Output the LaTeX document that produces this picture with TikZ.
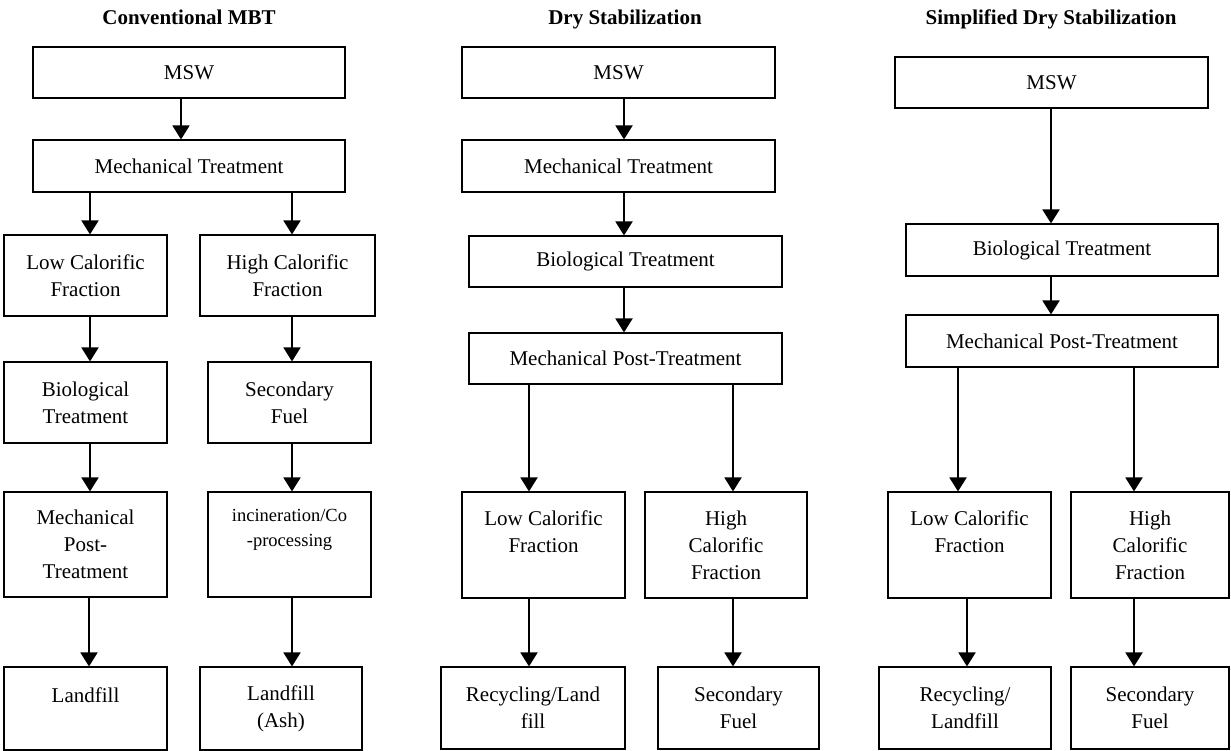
\documentclass[tikz,border=0pt]{standalone}
\usepackage{fontspec}
\setmainfont{Liberation Serif}
\usetikzlibrary{arrows.meta}

\begin{document}
\begin{tikzpicture}[x=1pt,y=-1pt,font=\fontsize{21}{27}\selectfont]
	\useasboundingbox (0,0) rectangle (1231,751);
	% titles
	\begin{scope}[every node/.style={anchor=base,font=\fontsize{21}{27}\selectfont\bfseries}]
	\node (t1) at (189,25) {Conventional MBT};
	\node (t2) at (625,25) {Dry Stabilization};
	\node (t3) at (1051,25) {Simplified Dry Stabilization};
	\end{scope}
	\begin{scope}[every node/.style={draw,line width=1.1pt,align=center,inner sep=0pt}]
	% Conventional MBT
	\node[minimum width=312,minimum height=51] (msw1) at (189,72.5) {MSW};
	\node[minimum width=312,minimum height=52] (mt1) at (189,166) {Mechanical Treatment};
	\node[minimum width=163,minimum height=81] (lcf1) at (85.5,275.5) {Low Calorific\\Fraction};
	\node[minimum width=175,minimum height=81] (hcf1) at (287.5,275.5) {High Calorific\\Fraction};
	\node[minimum width=163,minimum height=81] (bt1) at (85.5,402.5) {Biological\\Treatment};
	\node[minimum width=163,minimum height=81] (sf1) at (289.5,402.5) {Secondary\\Fuel};
	\node[minimum width=163,minimum height=105] (mpt1) at (85.5,544.5) {Mechanical\\Post-\\Treatment};
	\node[minimum width=163,minimum height=105,font=\fontsize{18.5}{25}\selectfont] (inc1) at (289.5,544.5) {incineration/Co\\-processing\\[9pt]~};
	\node[minimum width=163,minimum height=83] (lf1) at (85.5,708.5) {Landfill\\~};
	\node[minimum width=162,minimum height=83] (lfa1) at (281,708.5) {Landfill\\(Ash)};
	% Dry Stabilization
	\node[minimum width=313,minimum height=51] (msw2) at (618.5,72.5) {MSW};
	\node[minimum width=313,minimum height=52] (mt2) at (618.5,166) {Mechanical Treatment};
	\node[minimum width=313,minimum height=51] (bt2) at (625.5,261.5) {Biological Treatment};
	\node[minimum width=313,minimum height=51] (mpt2) at (625.5,358.5) {Mechanical Post-Treatment};
	\node[minimum width=163,minimum height=106] (lcf2) at (543.5,545) {Low Calorific\\Fraction\\~};
	\node[minimum width=162,minimum height=106] (hcf2) at (726,545) {High\\Calorific\\Fraction};
	\node[minimum width=184,minimum height=82] (rlf2) at (533,708) {Recycling/Land\\fill};
	\node[minimum width=161,minimum height=82] (sf2) at (738.5,708) {Secondary\\Fuel};
	% Simplified Dry Stabilization
	\node[minimum width=313,minimum height=51] (msw3) at (1051.5,82.5) {MSW};
	\node[minimum width=312,minimum height=52] (bt3) at (1062,250) {Biological Treatment};
	\node[minimum width=312,minimum height=52] (mpt3) at (1062,341) {Mechanical Post-Treatment};
	\node[minimum width=163,minimum height=106] (lcf3) at (969.5,545) {Low Calorific\\Fraction\\~};
	\node[minimum width=158,minimum height=106] (hcf3) at (1150,545) {High\\Calorific\\Fraction};
	\node[minimum width=172,minimum height=82] (rlf3) at (965,708) {Recycling/\\Landfill};
	\node[minimum width=158,minimum height=82] (sf3) at (1150,708) {Secondary\\Fuel};
	\end{scope}
	\begin{scope}[every edge/.style={draw=black,line width=1.9pt,-{Triangle[length=14pt,width=17pt]}}]
	\path (msw1.south -| 181,0) edge (mt1.north -| 181,0);
	\path (mt1.south -| 90,0) edge (lcf1.north -| 90,0);
	\path (mt1.south -| 292,0) edge (hcf1.north -| 292,0);
	\path (lcf1.south -| 90,0) edge (bt1.north -| 90,0);
	\path (hcf1.south -| 292,0) edge (sf1.north -| 292,0);
	\path (bt1.south -| 90,0) edge (mpt1.north -| 90,0);
	\path (sf1.south -| 292,0) edge (inc1.north -| 292,0);
	\path (mpt1.south -| 89,0) edge (lf1.north -| 89,0);
	\path (inc1.south -| 292,0) edge (lfa1.north -| 292,0);
	\path (msw2.south -| 624,0) edge (mt2.north -| 624,0);
	\path (mt2.south -| 624,0) edge (bt2.north -| 624,0);
	\path (bt2.south -| 624,0) edge (mpt2.north -| 624,0);
	\path (mpt2.south -| 529,0) edge (lcf2.north -| 529,0);
	\path (mpt2.south -| 733,0) edge (hcf2.north -| 733,0);
	\path (lcf2.south -| 529,0) edge (rlf2.north -| 529,0);
	\path (hcf2.south -| 733,0) edge (sf2.north -| 733,0);
	\path (msw3.south -| 1051,0) edge (bt3.north -| 1051,0);
	\path (bt3.south -| 1051,0) edge (mpt3.north -| 1051,0);
	\path (mpt3.south -| 958,0) edge (lcf3.north -| 958,0);
	\path (mpt3.south -| 1134,0) edge (hcf3.north -| 1134,0);
	\path (lcf3.south -| 967,0) edge (rlf3.north -| 967,0);
	\path (hcf3.south -| 1134,0) edge (sf3.north -| 1134,0);
	\end{scope}
\end{tikzpicture}
\end{document}
